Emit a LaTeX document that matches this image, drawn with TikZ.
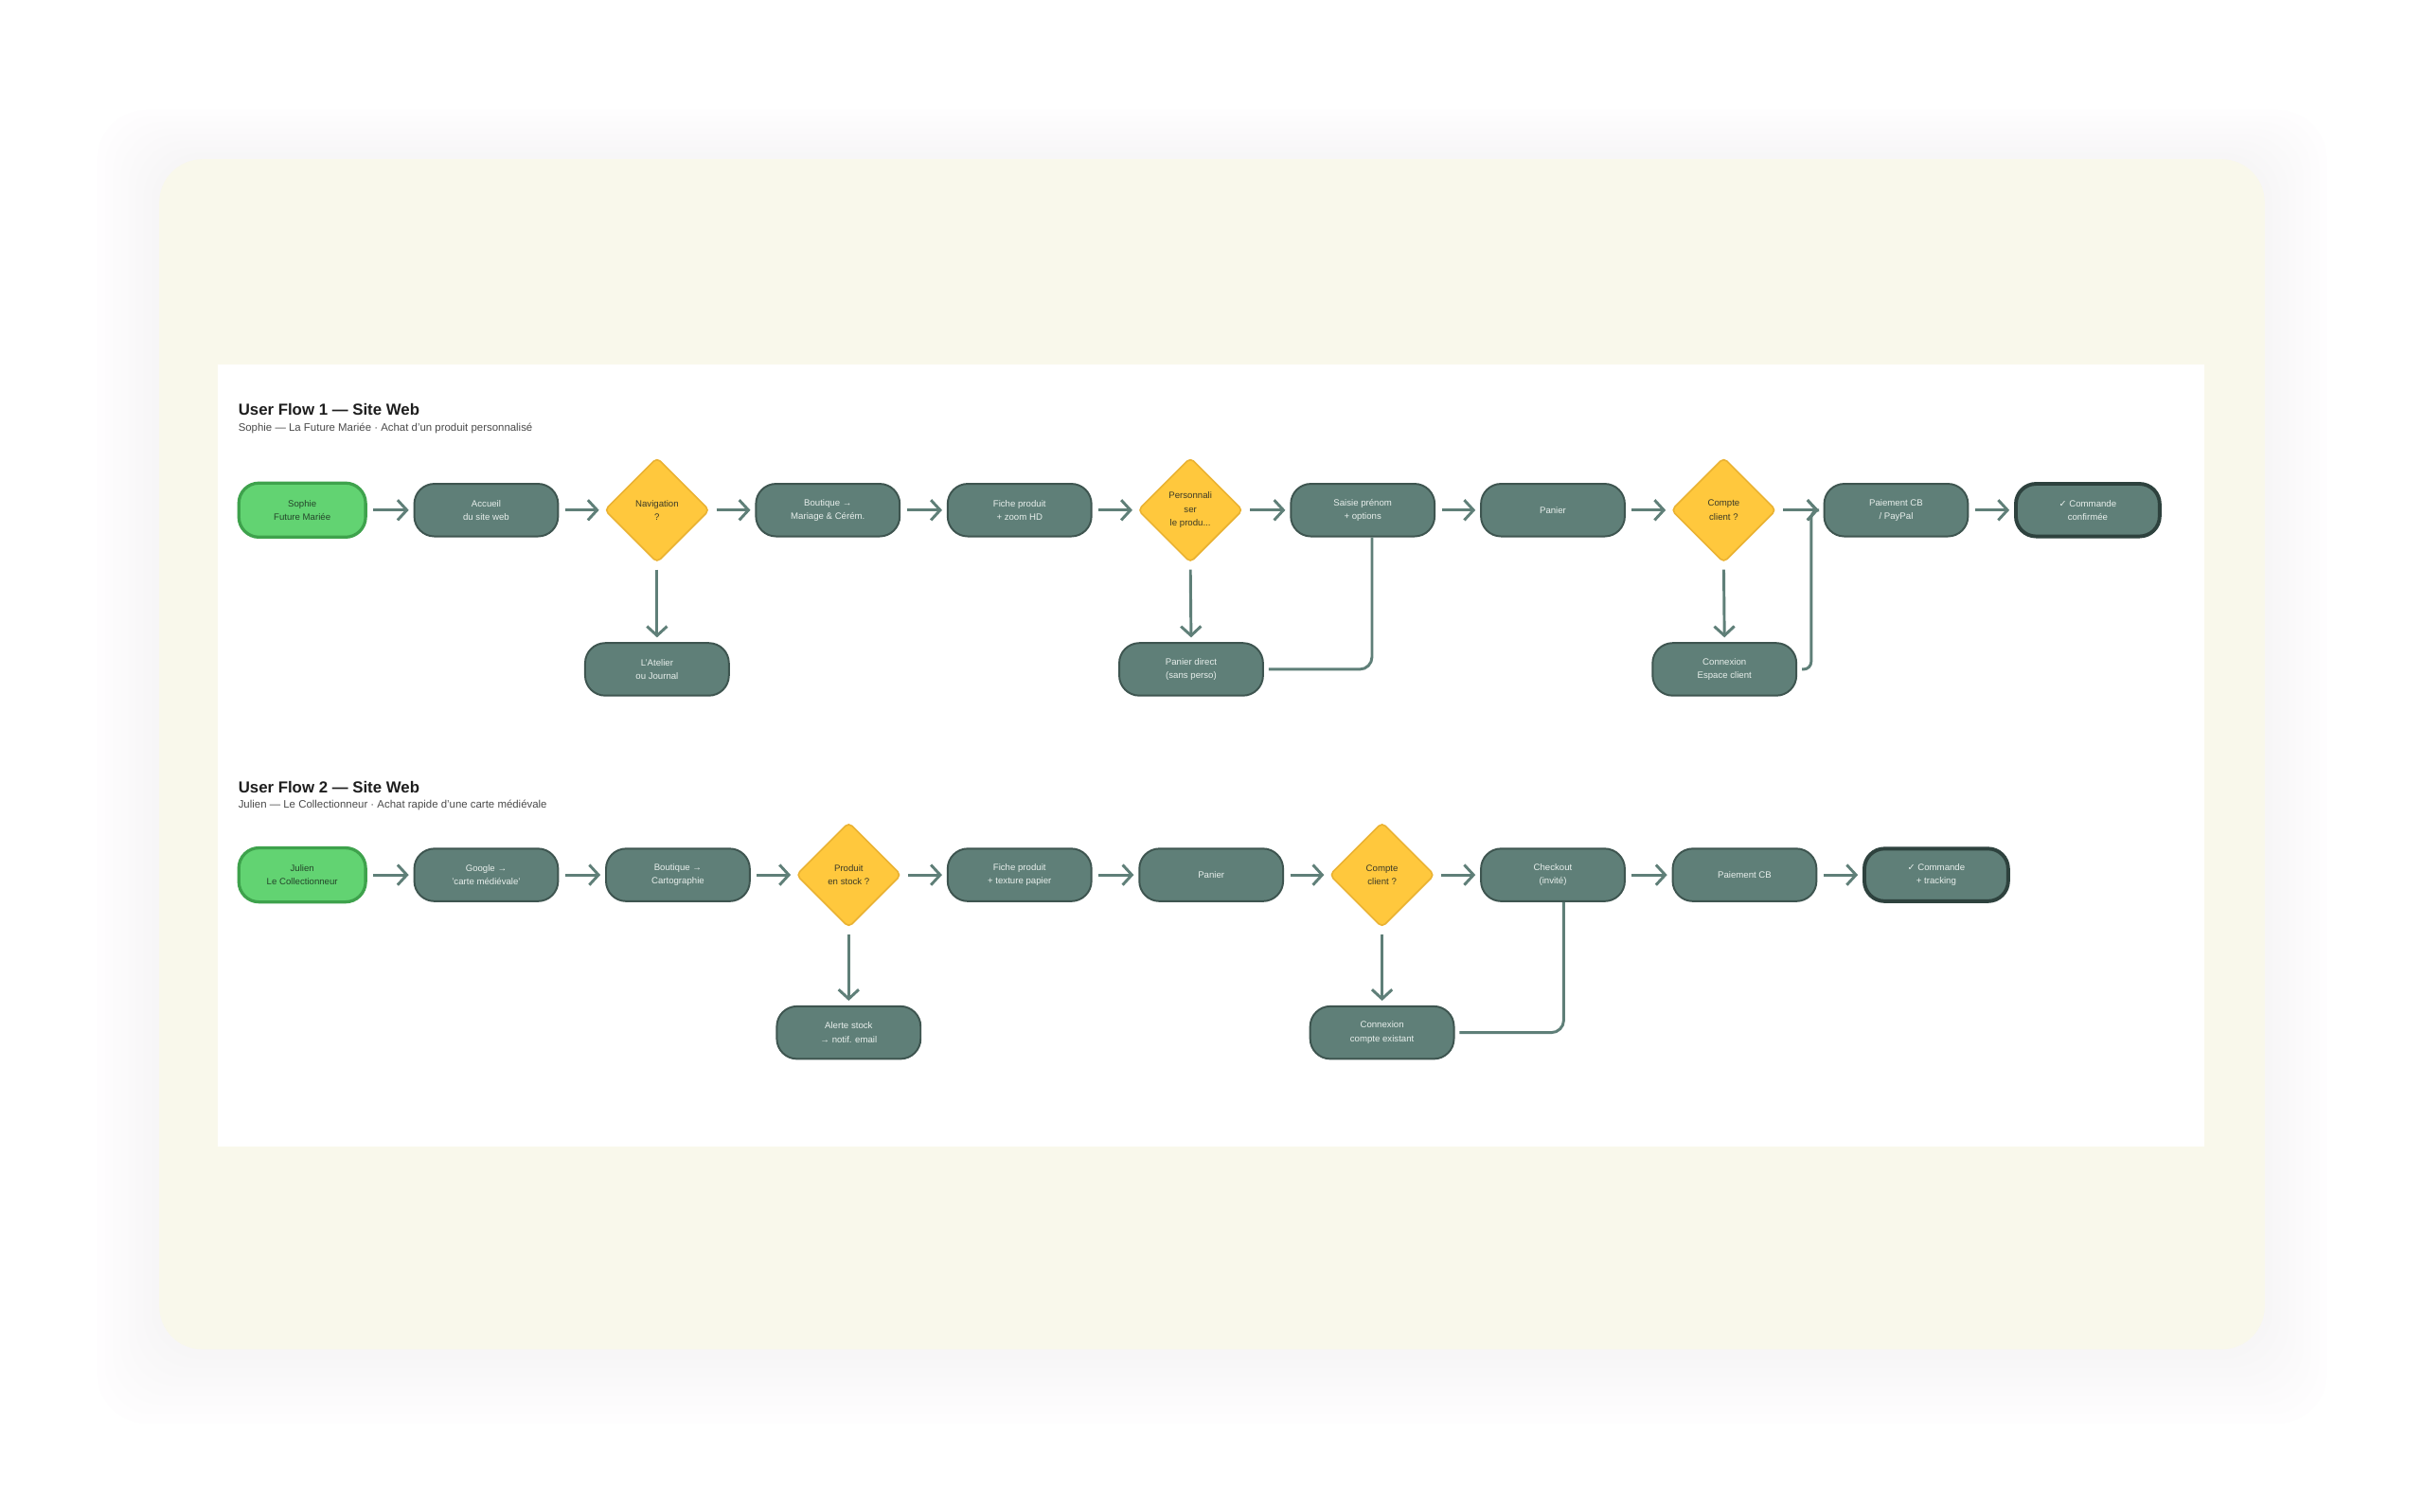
\documentclass[tikz,border=0pt]{standalone}
\usepackage{fontspec}
\setmainfont{Liberation Sans}
\newfontfamily\symfont{DejaVu Sans}
\usetikzlibrary{shapes.geometric,arrows.meta}

\definecolor{slate}{HTML}{5F7F78}
\definecolor{slateborder}{HTML}{3E5550}
\definecolor{slatedark}{HTML}{2E423E}
\definecolor{greenfill}{HTML}{62D372}
\definecolor{greenborder}{HTML}{3EA24C}
\definecolor{yellowfill}{HTML}{FFC83D}
\definecolor{yellowborder}{HTML}{EAB232}
\definecolor{cream}{HTML}{F9F8EB}
\definecolor{boxtext}{HTML}{E8EFEC}
\definecolor{darktext}{HTML}{3B3A26}
\definecolor{greentext}{HTML}{24452A}
\definecolor{connector}{HTML}{5F7F78}
\definecolor{titlecol}{HTML}{1E1E1E}
\definecolor{subcol}{HTML}{4A4A4A}
\definecolor{shadowcol}{HTML}{E4E2F2}

\tikzset{
  stepbox/.style={rectangle, rounded corners=13pt, minimum width=93pt, minimum height=34pt,
    fill=slate, draw=slateborder, line width=1.2pt, text=boxtext,
    font=\fontsize{5.9}{8.8}\selectfont, align=center, inner sep=0pt},
  startbox/.style={stepbox, minimum width=82pt, minimum height=35pt, fill=greenfill,
    draw=greenborder, line width=2pt, text=greentext},
  endbox/.style={stepbox, draw=slatedark, line width=2.4pt},
  decision/.style={diamond, minimum width=68pt, minimum height=68pt, aspect=1,
    fill=yellowfill, draw=yellowborder, line width=1pt, rounded corners=3pt,
    text=darktext, font=\fontsize{5.9}{8.8}\selectfont, align=center, inner sep=0pt},
  flow/.style={draw=connector, line width=1.8pt, -{Straight Barb[length=6pt,width=13pt]},
    shorten <=4pt, shorten >=3pt},
  link/.style={draw=connector, line width=1.8pt, rounded corners=8pt, shorten <=3pt},
  flowtitle/.style={anchor=west, inner sep=0pt, text=titlecol,
    font=\bfseries\fontsize{10.3}{12}\selectfont},
  flowsub/.style={anchor=west, inner sep=0pt, text=subcol,
    font=\fontsize{7}{8.5}\selectfont}
}

\begin{document}
\begin{tikzpicture}[x=1pt,y=-1pt]
\useasboundingbox (0,0) rectangle (1568,978);
\fill[white] (0,0) rectangle (1568,978);
% soft shadow around the panel
\foreach \i in {1,...,8}
  \fill[shadowcol, opacity=0.035, rounded corners=32pt] (103-\i*5, 103-\i*4) rectangle (1465+\i*5, 873+\i*6);
\fill[cream, rounded corners=28pt] (103,103) rectangle (1465,873);
\fill[white] (141,236) rectangle (1426,742);

% ---------------- Flow 1 ----------------
\node[flowtitle] (t1) at (154,265) {User Flow 1 — Site Web};
\node[flowsub] (s1) at (154,277) {Sophie — La Future Mariée · Achat d'un produit personnalisé};

\node[startbox] (sophie) at (195.5,330) {Sophie\\Future Mariée};
\node[stepbox] (accueil) at (314.5,330) {Accueil\\du site web};
\node[decision] (nav) at (425,330) {Navigation\\?};
\node[stepbox] (boutique1) at (535.5,330) {Boutique →\\Mariage \& Cérém.};
\node[stepbox] (fiche1) at (659.5,330) {Fiche produit\\+ zoom HD};
\node[decision] (perso) at (770,330) {Personnali\\ser\\le produ...};
\node[stepbox] (saisie) at (881.5,330) {Saisie prénom\\+ options};
\node[stepbox] (panier1) at (1004.5,330) {Panier};
\node[decision] (compte1) at (1115,330) {Compte\\client ?};
\node[stepbox] (pay1) at (1226.5,330) {Paiement CB\\/ PayPal};
\node[endbox] (cmd1) at (1350.5,330) {{\symfont ✓} Commande\\confirmée};

\node[stepbox] (atelier) at (425,433) {L'Atelier\\ou Journal};
\node[stepbox] (pdirect) at (770.5,433) {Panier direct\\(sans perso)};
\node[stepbox] (conn1) at (1115.5,433) {Connexion\\Espace client};

\draw[flow] (sophie) -- (accueil);
\draw[flow] (accueil) -- (nav);
\draw[flow] (nav) -- (boutique1);
\draw[flow] (boutique1) -- (fiche1);
\draw[flow] (fiche1) -- (perso);
\draw[flow] (perso) -- (saisie);
\draw[flow] (saisie) -- (panier1);
\draw[flow] (panier1) -- (compte1);
\draw[flow] (compte1) -- (pay1);
\draw[flow] (pay1) -- (cmd1);
\draw[flow] (nav.south) -- (atelier.north);
\draw[flow] (perso.south) -- (pdirect.north);
\draw[flow] (compte1.south) -- (conn1.north);
\draw[link] (pdirect.east) -| ([xshift=6pt]saisie.south);
\draw[flow, rounded corners=5pt, shorten <=3pt] (conn1.east) -- ++(9,0) |- (pay1.west);

% ---------------- Flow 2 ----------------
\node[flowtitle] (t2) at (154,509) {User Flow 2 — Site Web};
\node[flowsub] (s2) at (154,521) {Julien — Le Collectionneur · Achat rapide d'une carte médiévale};

\node[startbox] (julien) at (195.5,566) {Julien\\Le Collectionneur};
\node[stepbox] (google) at (314.5,566) {Google →\\'carte médiévale'};
\node[stepbox] (boutique2) at (438.5,566) {Boutique →\\Cartographie};
\node[decision] (stock) at (549,566) {Produit\\en stock ?};
\node[stepbox] (fiche2) at (659.5,566) {Fiche produit\\+ texture papier};
\node[stepbox] (panier2) at (783.5,566) {Panier};
\node[decision] (compte2) at (894,566) {Compte\\client ?};
\node[stepbox] (checkout) at (1004.5,566) {Checkout\\(invité)};
\node[stepbox] (pay2) at (1128.5,566) {Paiement CB};
\node[endbox] (cmd2) at (1252.5,566) {{\symfont ✓} Commande\\+ tracking};

\node[stepbox] (alerte) at (549,668) {Alerte stock\\→ notif. email};
\node[stepbox] (conn2) at (894,668) {Connexion\\compte existant};

\draw[flow] (julien) -- (google);
\draw[flow] (google) -- (boutique2);
\draw[flow] (boutique2) -- (stock);
\draw[flow] (stock) -- (fiche2);
\draw[flow] (fiche2) -- (panier2);
\draw[flow] (panier2) -- (compte2);
\draw[flow] (compte2) -- (checkout);
\draw[flow] (checkout) -- (pay2);
\draw[flow] (pay2) -- (cmd2);
\draw[flow] (stock.south) -- (alerte.north);
\draw[flow] (compte2.south) -- (conn2.north);
\draw[link] (conn2.east) -| ([xshift=7pt]checkout.south);
\end{tikzpicture}
\end{document}
